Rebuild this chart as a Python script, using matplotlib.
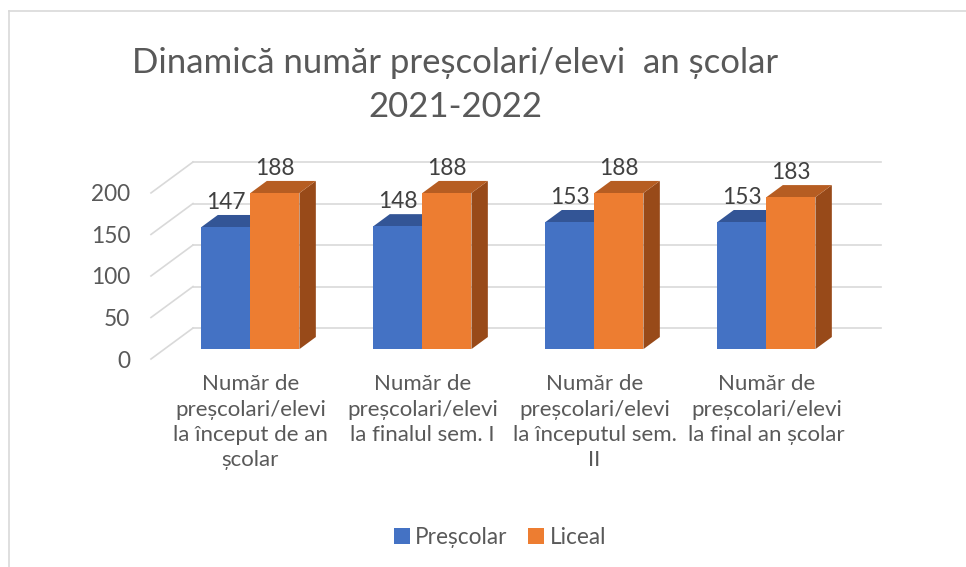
import matplotlib.pyplot as plt
from matplotlib.patches import Polygon, Patch
from matplotlib.lines import Line2D

# data
categories = ['Număr de\npreșcolari/elevi\nla început de an\nșcolar',
              'Număr de\npreșcolari/elevi\nla finalul sem. I',
              'Număr de\npreșcolari/elevi\nla începutul sem.\nII',
              'Număr de\npreșcolari/elevi\nla final an școlar']
prescolar = [147, 148, 153, 153]
liceal = [188, 188, 188, 183]
yticks = [0, 50, 100, 150, 200]
series_names = ['Preșcolar', 'Liceal']

# colours (front, top, side)
blue = ('#4472C4', '#335596', '#2E5190')
orange = ('#ED7D31', '#B65D22', '#984A19')
grid_col = '#D9D9D9'
text_col = '#595959'
font = 'Lato'

# fake 3d: depth offset in data units
DX = 0.2442
DY = 37.26
z0, z1 = 0.32, 0.71
w = 0.285


def proj(x, v, z):
    return (x + z * DX, v + z * DY)


def draw_bar(ax, x0, x1, v, cols):
    front = [proj(x0, 0, z0), proj(x1, 0, z0), proj(x1, v, z0), proj(x0, v, z0)]
    top = [proj(x0, v, z0), proj(x1, v, z0), proj(x1, v, z1), proj(x0, v, z1)]
    side = [proj(x1, 0, z0), proj(x1, 0, z1), proj(x1, v, z1), proj(x1, v, z0)]
    ax.add_patch(Polygon(side, closed=True, fc=cols[2], ec='none'))
    ax.add_patch(Polygon(top, closed=True, fc=cols[1], ec='none'))
    ax.add_patch(Polygon(front, closed=True, fc=cols[0], ec='none'))


W, H = 966, 567
fig = plt.figure(figsize=(W / 100, H / 100), dpi=100)
ax = fig.add_axes([151 / W, 1 - 359 / H, (881 - 151) / W, (359 - 162) / H])
ax.set_xlim(0, 4 + DX)
ax.set_ylim(0, 200 + DY)
ax.patch.set_visible(False)
for s in ax.spines.values():
    s.set_visible(False)

# gridlines: left wall diagonals + back wall horizontals
for v in yticks:
    ax.plot([0, DX], [v, v + DY], color=grid_col, lw=1.2, zorder=0, clip_on=False)
    ax.plot([DX, 4 + DX], [v + DY, v + DY], color=grid_col, lw=1.2, zorder=0, clip_on=False)

for i in range(len(categories)):
    c = i + 0.5
    draw_bar(ax, c - w, c, prescolar[i], blue)
    draw_bar(ax, c, c + w, liceal[i], orange)
    for xc, v in [(c - w / 2, prescolar[i]), (c + w / 2, liceal[i])]:
        px, py = proj(xc, v, z0)
        ax.annotate(str(v), (px, py), xytext=(0, 18), textcoords='offset points',
                    ha='center', va='center', fontsize=16.3, color='#404040', family=font)

ax.set_yticks(yticks)
ax.set_yticklabels([str(t) for t in yticks], fontsize=16.3, color=text_col, family=font)
ax.set_xticks([i + 0.5 + z0 * DX for i in range(len(categories))])
ax.set_xticklabels(categories, fontsize=16, color=text_col, family=font, linespacing=1.33)
ax.tick_params(axis='y', length=0, pad=15)
ax.tick_params(axis='x', length=0, pad=11)

fig.text(455 / W, 1 - 85 / H, 'Dinamică număr preșcolari/elevi  an școlar\n2021-2022',
         ha='center', va='center', fontsize=25, color=text_col, family=font, linespacing=1.45)

handles = [Patch(fc=blue[0], ec='none'), Patch(fc=orange[0], ec='none')]
fig.legend(handles, series_names, loc='center', bbox_to_anchor=(500 / W, 1 - 537 / H),
           ncol=2, frameon=False, handlelength=0.7, handleheight=0.7,
           handletextpad=0.25, columnspacing=0.9, prop={'family': font, 'size': 16.3},
           labelcolor=text_col)

# chart border (top and left edges visible)
fig.add_artist(Line2D([9 / W, 1], [1 - 11 / H, 1 - 11 / H], color=grid_col, lw=1.2))
fig.add_artist(Line2D([9 / W, 9 / W], [0, 1 - 11 / H], color=grid_col, lw=1.2))

fig.savefig('out.png', dpi=100)
